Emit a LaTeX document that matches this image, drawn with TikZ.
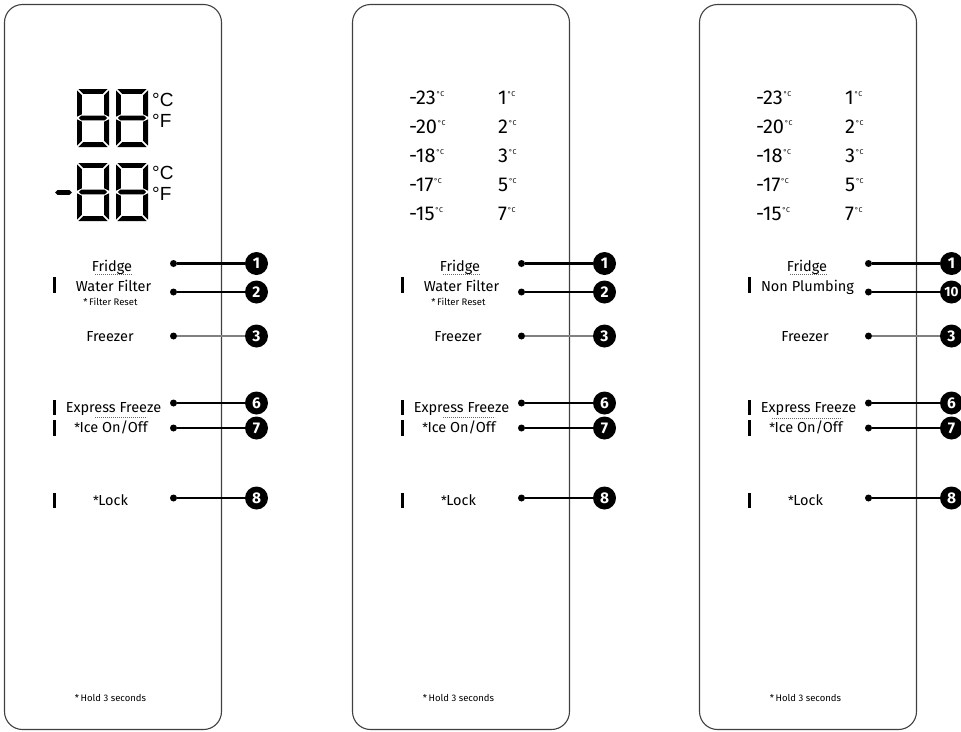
\documentclass[tikz,border=0pt]{standalone}
\usepackage{fontspec}
\setmainfont{Fira Sans}
\newfontfamily\arialf{Liberation Sans}
\newcommand\degc{\kern0.8pt\raisebox{7.3pt}{\fontsize{7}{7}\selectfont °C}}
\newcommand\smast{{\fontsize{13}{13}\selectfont *}\kern-0.5pt}
\newcommand\segdigit[2]{%
\begin{scope}[shift={(#1,#2)}]
\def\w{32}\def\h{58}\def\t{4.8}\def\g{1.3}\def\hm{29}
\fill[seg] (\g,0) -- (\w-\g,0) -- (\w-\g-\t,\t) -- (\g+\t,\t) -- cycle;
\fill[seg] (\g,\h) -- (\w-\g,\h) -- (\w-\g-\t,\h-\t) -- (\g+\t,\h-\t) -- cycle;
\fill[seg] (0,\g) -- (\t,\g+\t) -- (\t,\hm-\g-\t/2) -- (0,\hm-\g) -- cycle;
\fill[seg] (0,\h-\g) -- (\t,\h-\g-\t) -- (\t,\hm+\g+\t/2) -- (0,\hm+\g) -- cycle;
\fill[seg] (\w,\g) -- (\w-\t,\g+\t) -- (\w-\t,\hm-\g-\t/2) -- (\w,\hm-\g) -- cycle;
\fill[seg] (\w,\h-\g) -- (\w-\t,\h-\g-\t) -- (\w-\t,\hm+\g+\t/2) -- (\w,\hm+\g) -- cycle;
\fill[seg] (\g+0.5,\hm) -- (\g+\t/2+0.5,\hm-\t/2) -- (\w-\g-\t/2-0.5,\hm-\t/2) -- (\w-\g-0.5,\hm) -- (\w-\g-\t/2-0.5,\hm+\t/2) -- (\g+\t/2+0.5,\hm+\t/2) -- cycle;
\end{scope}}
% common parts of a panel: #1 offset, #2 suffix
\newcommand\panelparts[2]{%
\begin{scope}[shift={(#1,0)}]
\draw[panel] (4.5,4.5) rectangle (221.5,729.5);
\node[lbl] (fridge#2) at (112,271) {Fridge};
\draw[dotl] (95,274.5) -- (132,274.5);
\node[lbl] (freezer#2) at (110,341.5) {Freezer};
\node[lbl] (express#2) at (113.5,412.3) {Express Freeze};
\node[lbl] (ice#2) at (111,432.5) {\smast Ice On/Off};
\node[lbl] (lock#2) at (110.5,505) {\smast Lock};
\node[small] (hold#2) at (110.5,701) {*\,Hold 3 seconds};
\fill[ind] (52.5,400) rectangle (56,415);
\fill[ind] (52.5,420) rectangle (56,435.5);
\fill[ind] (52.5,493) rectangle (56,508);
\node[dotn] (da#2) at (173.5,263.5) {};
\node[dotn] (db#2) at (173.5,292) {};
\node[dotn] (dc#2) at (173.5,336) {};
\node[dotn] (dd#2) at (173.5,403) {};
\node[dotn] (de#2) at (173.5,428) {};
\node[dotn] (df#2) at (173.5,498) {};
\node[badge] (ba#2) at (256.5,263.5) {1};
\node[badge] (bc#2) at (256.5,336) {3};
\node[badge] (bd#2) at (256.5,403) {6};
\node[badge] (be#2) at (256.5,428) {7};
\node[badge] (bf#2) at (256.5,498) {8};
\draw[conn] (da#2) -- (ba#2);
\draw[conng] (dc#2) -- (bc#2);
\draw[connt] (dd#2) -- (bd#2);
\draw[connt] (de#2) -- (be#2);
\draw[connt] (df#2) -- (bf#2);
\end{scope}}
\newcommand\templist[2]{%
\begin{scope}[shift={(#1,0)}]
\node[tmp] (ta#2) at (61,104) {-23\degc};
\node[tmp] (tb#2) at (61,133) {-20\degc};
\node[tmp] (tc#2) at (61,162) {-18\degc};
\node[tmp] (td#2) at (61,191) {-17\degc};
\node[tmp] (te#2) at (61,220) {-15\degc};
\node[tmp] (ua#2) at (150,104) {1\degc};
\node[tmp] (ub#2) at (150,133) {2\degc};
\node[tmp] (uc#2) at (150,162) {3\degc};
\node[tmp] (ud#2) at (150,191) {5\degc};
\node[tmp] (ue#2) at (150,220) {7\degc};
\end{scope}}
\newcommand\waterfilter[2]{%
\begin{scope}[shift={(#1,0)}]
\node[lbl] (water#2) at (113.5,291) {Water Filter};
\node[small] (reset#2) at (110.5,305) {*\,Filter Reset};
\fill[ind] (52.5,277) rectangle (56,293);
\node[badge] (bb#2) at (256.5,292) {2};
\draw[conn] (db#2) -- (bb#2);
\draw[dotl] (95,417.5) -- (147,417.5);
\end{scope}}
\begin{document}
\begin{tikzpicture}[x=1pt,y=-1pt,
 panel/.style={draw=black!75, line width=1.1pt, rounded corners=18pt},
 lbl/.style={anchor=base, inner sep=0pt, font=\fontsize{14.5}{14.5}\selectfont},
 small/.style={anchor=base, inner sep=0pt, font=\fontsize{9.5}{10}\selectfont},
 tmp/.style={anchor=base west, inner sep=0pt, font=\fontsize{20}{20}\selectfont},
 dotn/.style={circle, fill=black, inner sep=0pt, minimum size=7pt},
 badge/.style={circle, fill=black, inner sep=0pt, minimum size=23pt, text=white, font=\bfseries\fontsize{15.5}{15.5}\selectfont},
 conn/.style={line width=2.1pt, black},
 conng/.style={line width=1.6pt, black!50},
 connt/.style={line width=1.8pt, black},
 ind/.style={black},
 seg/.style={black},
 dotl/.style={black!60, line width=0.7pt, dash pattern=on 0.9pt off 1.1pt},
 deg/.style={anchor=base west, inner sep=0pt, font=\arialf\fontsize{19}{19}\selectfont}]
\useasboundingbox (0,0) rectangle (961,731);
\begin{scope}
\clip (0,0) rectangle (961,731);
% panel 1
\panelparts{0}{p}
\waterfilter{0}{p}
\segdigit{77}{89}
\segdigit{116}{89}
\segdigit{77}{163}
\segdigit{116}{163}
\fill[seg] (55,192.5) -- (57.5,190.1) -- (69.5,190.1) -- (72,192.5) -- (69.5,194.9) -- (57.5,194.9) -- cycle;
\node[deg] (c1) at (152,106) {°C};
\node[deg] (f1) at (152,127.7) {°F};
\node[deg] (c2) at (152,179.5) {°C};
\node[deg] (f2) at (152,200.5) {°F};
% panel 2
\panelparts{348}{q}
\waterfilter{348}{q}
\templist{348}{q}
% panel 3
\panelparts{695}{r}
\templist{695}{r}
\begin{scope}[shift={(695,0)}]
\node[lbl] (nonplumb) at (112.5,291) {Non Plumbing};
\fill[ind] (52.5,277) rectangle (56,293);
\node[badge, font=\bfseries\fontsize{13.5}{13.5}\selectfont] (bbr) at (256.5,292) {10};
\draw[dotl] (77,418) -- (147,418);
\end{scope}
\draw[conn] (dbr) -- (bbr);
\end{scope}
\end{tikzpicture}
\end{document}
